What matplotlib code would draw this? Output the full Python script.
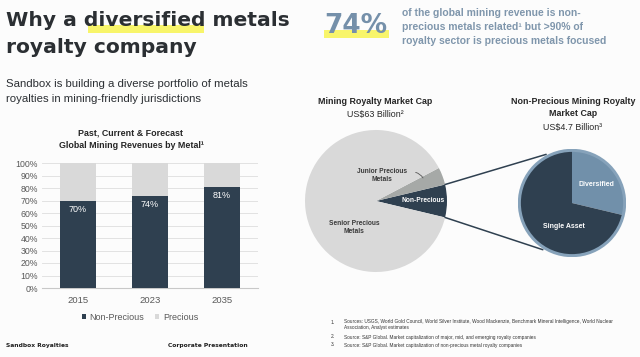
#!/usr/bin/env python3

import math
import matplotlib.pyplot as plt
from matplotlib.patches import Rectangle, Circle, ConnectionPatch

# bar chart data
years = ['2015', '2023', '2035']
non_precious = [0.70, 0.74, 0.81]
precious = [1 - v for v in non_precious]

# royalty market cap (US$ billion)
cap_labels = ['Non-Precious', 'Junior Precious\nMetals', 'Senior Precious\nMetals']
cap_values = [4.7, 2.5, 55.8]

np_labels = ['Diversified', 'Single Asset']
np_values = [1.35, 3.35]

DARK = '#2f4050'
LIGHT = '#d9d9d9'
MID = '#a6a9a7'
BLUE = '#7190aa'
YELLOW = '#f8f56a'
W, H = 640, 357


def fx(x):
	return x / W


def fy(y):
	return 1 - y / H


def main():
	fig = plt.figure(figsize=(6.4, 3.57), dpi=100, facecolor='#fcfcfc')

	# highlights behind the big text
	fig.patches.append(Rectangle((fx(88), fy(33)), 116 / W, 8 / H, transform=fig.transFigure,
		facecolor=YELLOW, edgecolor='none', zorder=0))
	fig.patches.append(Rectangle((fx(324), fy(38)), 65 / W, 8 / H, transform=fig.transFigure,
		facecolor=YELLOW, edgecolor='none', zorder=0))

	title_kw = dict(fontsize=14.6, fontweight='bold', color='#2b2f33', family='DejaVu Sans', va='baseline')
	fig.text(fx(6), fy(26), 'Why a diversified metals', **title_kw)
	fig.text(fx(6), fy(53), 'royalty company', **title_kw)

	sub_kw = dict(fontsize=8.2, color='#2b2f33', family='Liberation Sans', va='baseline')
	fig.text(fx(6), fy(87), 'Sandbox is building a diverse portfolio of metals', **sub_kw)
	fig.text(fx(6), fy(102), 'royalties in mining-friendly jurisdictions', **sub_kw)

	fig.text(fx(324), fy(33), '74%', fontsize=19, fontweight='bold', color='#7590aa',
		family='DejaVu Sans', va='baseline')
	side_kw = dict(fontsize=7.5, fontweight='bold', color='#7f96ac', family='Liberation Sans', va='center')
	fig.text(fx(402), fy(13), 'of the global mining revenue is non-', **side_kw)
	fig.text(fx(402), fy(27), 'precious metals related\u00b9 but >90% of', **side_kw)
	fig.text(fx(402), fy(41), 'royalty sector is precious metals focused', **side_kw)

	# stacked bars
	ax = fig.add_axes([fx(42), fy(288), 216 / W, 125 / H])
	ax.set_facecolor('none')
	x = list(range(len(years)))
	b1 = ax.bar(x, non_precious, width=0.5, color=DARK, label='Non-Precious', zorder=3)
	b2 = ax.bar(x, precious, width=0.5, bottom=non_precious, color=LIGHT, label='Precious', zorder=3)
	for i, v in enumerate(non_precious):
		ax.text(i, v - 0.072, f'{v:.0%}', ha='center', va='center', color='white',
			fontsize=6.5, family='Liberation Sans')
	ax.set_xlim(-0.5, 2.5)
	ax.set_ylim(0, 1)
	ax.set_yticks([i / 10 for i in range(11)])
	ax.set_yticklabels([f'{i * 10}%' for i in range(11)])
	ax.set_xticks(x)
	ax.set_xticklabels(years)
	ax.grid(axis='y', color='#e2e2e2', lw=0.7, zorder=0)
	for s in ['left', 'right', 'top']:
		ax.spines[s].set_visible(False)
	ax.spines['bottom'].set_color('#c8c8c8')
	ax.tick_params(length=0, labelsize=6.3, labelcolor='#595959', pad=3)
	for t in ax.get_xticklabels() + ax.get_yticklabels():
		t.set_family('Liberation Sans')
	ax.tick_params(axis='x', pad=6, labelsize=6.8)
	ax.legend(handles=[b1, b2], loc='center', bbox_to_anchor=(fx(140), fy(317)),
		bbox_transform=fig.transFigure, ncol=2, frameon=False, handlelength=0.45, handleheight=0.45,
		handletextpad=0.4, columnspacing=1.2, prop={'family': 'Liberation Sans', 'size': 6.5},
		labelcolor='#595959')

	bt_kw = dict(fontsize=6.4, fontweight='bold', color='#262626', family='Liberation Sans', ha='center', va='center')
	fig.text(fx(131), fy(133), 'Past, Current & Forecast', **bt_kw)
	fig.text(fx(131), fy(146), 'Global Mining Revenues by Metal\u00b9', **bt_kw)

	# big pie
	ax1 = fig.add_axes([fx(305), fy(272), 142 / W, 142 / H])
	start = -cap_values[0] / sum(cap_values) * 360 / 2
	ax1.pie(cap_values, colors=[DARK, MID, LIGHT], startangle=start, counterclock=True,
		wedgeprops=dict(linewidth=0))
	ax1.set_xlim(-1, 1)
	ax1.set_ylim(-1, 1)
	lab_kw = dict(fontsize=4.8, fontweight='bold', family='Liberation Sans', ha='center', va='center')
	ax1.text(0.66, 0.0, cap_labels[0], color='white', **lab_kw)
	ax1.text(0.09, 0.36, cap_labels[1], color='#3a3a3a', linespacing=1.3, **lab_kw)
	ax1.text(-0.31, -0.37, cap_labels[2], color='#3a3a3a', linespacing=1.3, **lab_kw)
	ax1.annotate('', xy=(0.68, 0.29), xytext=(0.52, 0.41),
		arrowprops=dict(arrowstyle='-', color='#555555', lw=0.6, connectionstyle='arc3,rad=-0.3'))

	# small pie
	ax2 = fig.add_axes([fx(518), fy(257), 108 / W, 108 / H])
	ax2.pie(np_values, colors=[BLUE, DARK], startangle=90, counterclock=False, radius=0.97,
		wedgeprops=dict(linewidth=0))
	ax2.add_patch(Circle((0, 0), 0.975, fill=False, edgecolor='#86a2ba', lw=2.2))
	ax2.set_xlim(-1, 1)
	ax2.set_ylim(-1, 1)
	ax2.text(0.45, 0.34, np_labels[0], color='white', fontsize=5, fontweight='bold',
		family='Liberation Sans', ha='center', va='center')
	ax2.text(-0.15, -0.44, np_labels[1], color='white', fontsize=5, fontweight='bold',
		family='Liberation Sans', ha='center', va='center')

	half = math.radians(-start)
	for a1, a2 in [(half, 118), (-half, 238)]:
		p1 = (math.cos(a1), math.sin(a1))
		p2 = (1.02 * math.cos(math.radians(a2)), 1.02 * math.sin(math.radians(a2)))
		con = ConnectionPatch(xyA=p1, xyB=p2, coordsA='data', coordsB='data', axesA=ax1, axesB=ax2,
			color=DARK, lw=1.1)
		fig.add_artist(con)

	pt_kw = dict(fontsize=6.4, fontweight='bold', color='#262626', family='Liberation Sans', ha='center', va='center')
	pr_kw = dict(fontsize=6.4, color='#262626', family='Liberation Sans', ha='center', va='center')
	fig.text(fx(375), fy(101), 'Mining Royalty Market Cap', **pt_kw)
	fig.text(fx(375), fy(114), 'US$63 Billion\u00b2', **pr_kw)
	fig.text(fx(573), fy(101), 'Non-Precious Mining Royalty', **pt_kw)
	fig.text(fx(573), fy(114), 'Market Cap', **pt_kw)
	fig.text(fx(573), fy(127), 'US$4.7 Billion\u00b3', **pr_kw)

	# footnotes
	fn_kw = dict(fontsize=3.4, color='#333333', family='Liberation Sans', va='center')
	fig.text(fx(331), fy(322), '1.', **fn_kw)
	fig.text(fx(344), fy(322), 'Sources: USGS, World Gold Council, World Silver Institute, Wood Mackenzie, '
		'Benchmark Mineral Intelligence, World Nuclear', **fn_kw)
	fig.text(fx(344), fy(327), 'Association, Analyst estimates', **fn_kw)
	fig.text(fx(331), fy(337), '2.', **fn_kw)
	fig.text(fx(344), fy(337), 'Source: S&P Global. Market capitalization of major, mid, and emerging royalty companies', **fn_kw)
	fig.text(fx(331), fy(345), '3.', **fn_kw)
	fig.text(fx(344), fy(345), 'Source: S&P Global. Market capitalization of non-precious metal royalty companies', **fn_kw)

	ft_kw = dict(fontsize=4.3, fontweight='bold', color='#1f1f1f', family='DejaVu Sans', va='center')
	fig.text(fx(6), fy(345), 'Sandbox Royalties', **ft_kw)
	fig.text(fx(168), fy(345), 'Corporate Presentation', **ft_kw)

	fig.savefig('out.png', dpi=100, facecolor=fig.get_facecolor())


if __name__ == '__main__':
	main()
